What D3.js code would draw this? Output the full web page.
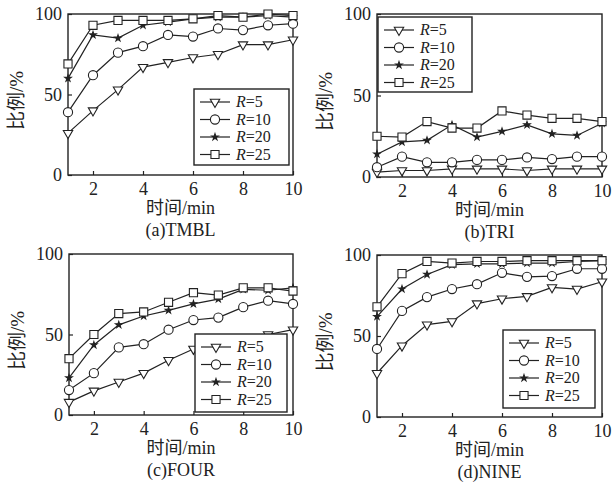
<!DOCTYPE html>
<html lang="zh">
<head>
<meta charset="UTF-8" />
<title>比例随时间变化</title>
<script src="https://cdn.jsdelivr.net/npm/d3@7"></script>
<style>
  body { margin: 0; background: #fff; }
  svg text { fill: #222; }
</style>
</head>
<body>
<svg width="616" height="483"></svg>
<script>
  // x values (time, min)
  const times = [1, 2, 3, 4, 5, 6, 7, 8, 9, 10];
  const seriesNames = ["5", "10", "20", "25"];
  const xTicks = [2, 4, 6, 8, 10];
  const yTicks = [0, 50, 100];

  // rows: R=5, R=10, R=20, R=25 (values in %)
  const tmbl = [
    [26, 40, 53, 67, 70, 73, 75, 81, 81, 84],
    [39, 62, 76, 80, 87, 86, 91, 90, 93, 94],
    [60, 87, 85, 93, 95, 97, 98, 98, 99, 98],
    [69, 93, 96, 96, 96, 97, 99, 98, 100, 99]
  ];
  const tri = [
    [3, 4, 4, 5, 5, 5, 4, 5, 5, 5],
    [6, 12.5, 9, 9, 10.5, 10.5, 12, 11, 12.5, 12.5],
    [14, 21.5, 22.5, 32, 24.5, 28, 32, 26.5, 25.5, 33],
    [25, 24.5, 34, 30, 30, 40.5, 38, 36, 36, 34]
  ];
  const four = [
    [8, 15, 20.5, 26, 34, 41, 44, 47, 50, 53],
    [15.5, 26, 42, 44, 53, 59, 60.5, 67, 71, 69],
    [23, 43.5, 56, 61.5, 65, 69, 72, 78, 77.5, 79],
    [35, 50, 63, 64, 70, 76, 74.5, 79, 79, 77]
  ];
  const nine = [
    [27, 44, 57, 59, 70, 73, 74.5, 80, 79, 83.5],
    [42, 65.5, 74, 79, 82, 89, 86.5, 87, 91.5, 91.5],
    [62, 79, 88, 94, 94.5, 94.5, 95, 95, 96, 96.5],
    [68, 88.5, 96, 95, 96, 96, 96.5, 96.5, 96.5, 96.5]
  ];

  const panels = [
    { data: tmbl, caption: "(a)TMBL", l: 68, r: 293, t: 14, b: 175, lx: 194, ly: 89, lw: 95, lh: 76 },
    { data: tri, caption: "(b)TRI", l: 377, r: 602, t: 14, b: 177, lx: 378, ly: 17, lw: 94, lh: 75 },
    { data: four, caption: "(c)FOUR", l: 69, r: 293, t: 254, b: 415, lx: 195, ly: 334, lw: 92, lh: 78 },
    { data: nine, caption: "(d)NINE", l: 377, r: 602, t: 255, b: 417, lx: 503, ly: 330, lw: 92, lh: 78 }
  ];

  const ink = "#222";
  const serif = "'Liberation Serif', 'Times New Roman', serif";
  const svg = d3.select("svg");

  const symbols = [
    { type: d3.symbolTriangle, size: 38, rotate: 180, fill: "#fff" },
    { type: d3.symbolCircle, size: 66, rotate: 0, fill: "#fff" },
    { type: d3.symbolStar, size: 13, rotate: 0, fill: ink },
    { type: d3.symbolSquare, size: 66, rotate: 0, fill: "#fff" }
  ];

  function drawMarker(g, i, cx, cy) {
    const s = symbols[i];
    g.append("path")
      .attr("d", d3.symbol().type(s.type).size(s.size)())
      .attr("transform", `translate(${cx},${cy}) rotate(${s.rotate})`)
      .attr("fill", s.fill)
      .attr("stroke", ink)
      .attr("stroke-width", 1.1);
  }

  panels.forEach(p => {
    const g = svg.append("g");
    const x = d3.scaleLinear().domain([1, 10]).range([p.l, p.r]);
    const y = d3.scaleLinear().domain([0, 100]).range([p.b, p.t]);

    // axes (inward ticks)
    const xa = g.append("g")
      .attr("transform", `translate(0,${p.b})`)
      .call(d3.axisBottom(x).tickValues(xTicks).tickSizeInner(-4).tickSizeOuter(0).tickPadding(7));
    const ya = g.append("g")
      .attr("transform", `translate(${p.l},0)`)
      .call(d3.axisLeft(y).tickValues(yTicks).tickSizeInner(-4).tickSizeOuter(0).tickPadding(6));
    [xa, ya].forEach(a => {
      a.attr("font-family", serif);
      a.select(".domain").remove();
      a.selectAll("line").attr("stroke", ink).attr("stroke-width", 1.2);
      a.selectAll("text")
        .attr("font-family", serif)
        .attr("font-size", 18)
        .attr("fill", ink);
    });

    g.append("rect")
      .attr("x", p.l).attr("y", p.t)
      .attr("width", p.r - p.l).attr("height", p.b - p.t)
      .attr("fill", "none").attr("stroke", ink).attr("stroke-width", 1.4);

    // axis titles and caption
    const cx = (p.l + p.r) / 2;
    g.append("text")
      .attr("x", cx).attr("y", p.b + 39)
      .attr("text-anchor", "middle")
      .attr("font-size", 18)
      .attr("font-family", "'Liberation Serif', 'Noto Sans CJK SC', serif")
      .text("时间/min");
    g.append("text")
      .attr("x", cx).attr("y", p.b + 61)
      .attr("text-anchor", "middle")
      .attr("font-size", 18)
      .attr("font-family", serif)
      .text(p.caption);
    const my = (p.t + p.b) / 2 + 6;
    g.append("text")
      .attr("transform", `translate(${p.l - 45},${my}) rotate(-90)`)
      .attr("text-anchor", "middle")
      .attr("font-size", 19)
      .attr("font-family", "'Liberation Serif', 'Noto Sans CJK SC', serif")
      .text("比例/%");

    // series
    const line = d3.line().x((d, i) => x(times[i])).y(d => y(d));
    p.data.forEach(vals => {
      g.append("path")
        .datum(vals)
        .attr("d", line)
        .attr("fill", "none")
        .attr("stroke", ink)
        .attr("stroke-width", 1.2);
    });
    p.data.forEach((vals, si) => {
      vals.forEach((v, i) => drawMarker(g, si, x(times[i]), y(v)));
    });

    // legend
    const lg = g.append("g");
    lg.append("rect")
      .attr("x", p.lx).attr("y", p.ly)
      .attr("width", p.lw).attr("height", p.lh)
      .attr("fill", "#fff").attr("stroke", ink).attr("stroke-width", 1.4);
    seriesNames.forEach((name, si) => {
      const ry = p.ly + 13 + si * 17.5;
      lg.append("line")
        .attr("x1", p.lx + 6).attr("x2", p.lx + 36)
        .attr("y1", ry).attr("y2", ry)
        .attr("stroke", ink).attr("stroke-width", 1.2);
      drawMarker(lg, si, p.lx + 21, ry);
      const t = lg.append("text")
        .attr("x", p.lx + 42).attr("y", ry + 5)
        .attr("font-size", 16)
        .attr("font-family", serif);
      t.append("tspan").attr("font-style", "italic").text("R");
      t.append("tspan").text("=" + name);
    });
  });
</script>
</body>
</html>
